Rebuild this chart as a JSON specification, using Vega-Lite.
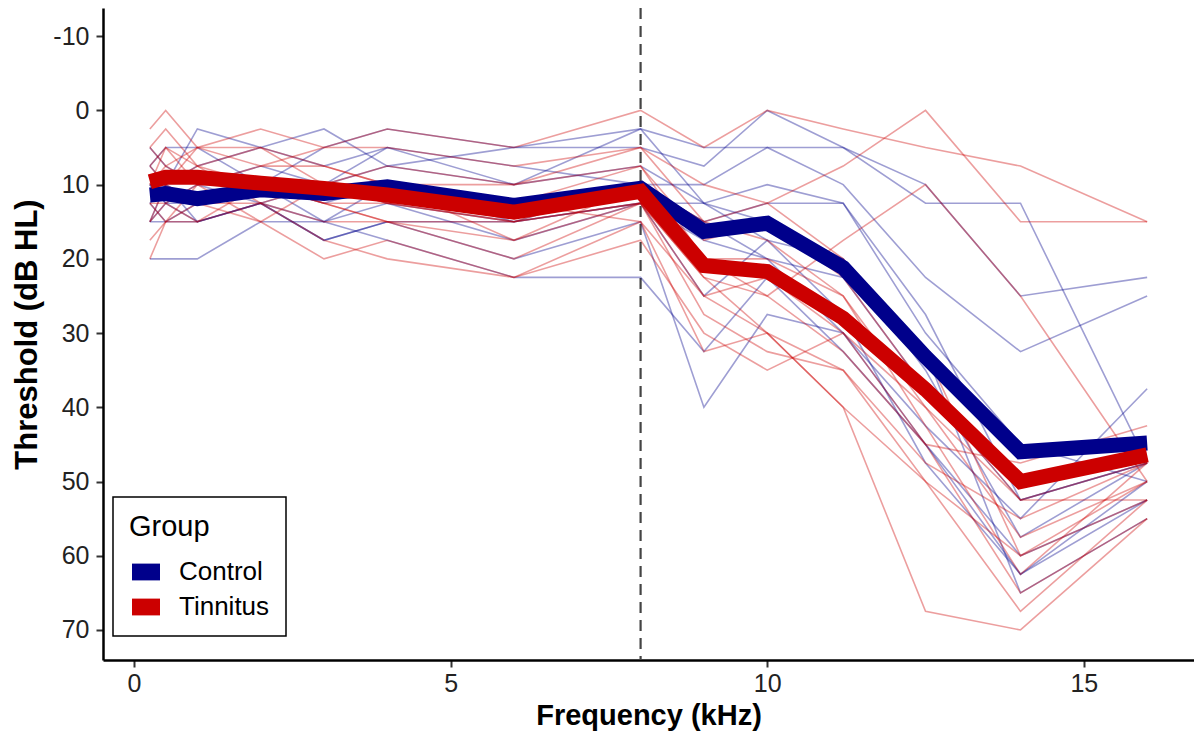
{
  "$schema": "https://vega.github.io/schema/vega-lite/v6.json",
  "autosize": {"type": "none"},
  "padding": {"left": 103, "top": 8, "right": 0, "bottom": 78},
  "width": 1091,
  "height": 652,
  "background": "white",
  "config": {
    "font": "Liberation Sans",
    "view": {"stroke": null},
    "axis": {"grid": false}
  },
  "datasets": {
    "subjects": [
{"id":"C1","group":"Control","freq":0.25,"thr":10},{"id":"C1","group":"Control","freq":0.5,"thr":10},{"id":"C1","group":"Control","freq":1,"thr":7.5},{"id":"C1","group":"Control","freq":2,"thr":5},{"id":"C1","group":"Control","freq":3,"thr":7.5},{"id":"C1","group":"Control","freq":4,"thr":5},{"id":"C1","group":"Control","freq":6,"thr":10},{"id":"C1","group":"Control","freq":8,"thr":2.5},{"id":"C1","group":"Control","freq":9,"thr":5},{"id":"C1","group":"Control","freq":10,"thr":5},{"id":"C1","group":"Control","freq":11.2,"thr":5},{"id":"C1","group":"Control","freq":12.5,"thr":12.5},{"id":"C1","group":"Control","freq":14,"thr":12.5},{"id":"C1","group":"Control","freq":16,"thr":47.5},
{"id":"C2","group":"Control","freq":0.25,"thr":15},{"id":"C2","group":"Control","freq":0.5,"thr":12.5},{"id":"C2","group":"Control","freq":1,"thr":15},{"id":"C2","group":"Control","freq":2,"thr":12.5},{"id":"C2","group":"Control","freq":3,"thr":17.5},{"id":"C2","group":"Control","freq":4,"thr":15},{"id":"C2","group":"Control","freq":6,"thr":20},{"id":"C2","group":"Control","freq":8,"thr":15},{"id":"C2","group":"Control","freq":9,"thr":40},{"id":"C2","group":"Control","freq":10,"thr":27.5},{"id":"C2","group":"Control","freq":11.2,"thr":30},{"id":"C2","group":"Control","freq":12.5,"thr":45},{"id":"C2","group":"Control","freq":14,"thr":62.5},{"id":"C2","group":"Control","freq":16,"thr":50},
{"id":"C3","group":"Control","freq":0.25,"thr":7.5},{"id":"C3","group":"Control","freq":0.5,"thr":10},{"id":"C3","group":"Control","freq":1,"thr":2.5},{"id":"C3","group":"Control","freq":2,"thr":5},{"id":"C3","group":"Control","freq":3,"thr":2.5},{"id":"C3","group":"Control","freq":4,"thr":7.5},{"id":"C3","group":"Control","freq":6,"thr":5},{"id":"C3","group":"Control","freq":8,"thr":5},{"id":"C3","group":"Control","freq":9,"thr":7.5},{"id":"C3","group":"Control","freq":10,"thr":0},{"id":"C3","group":"Control","freq":11.2,"thr":5},{"id":"C3","group":"Control","freq":12.5,"thr":10},{"id":"C3","group":"Control","freq":14,"thr":25},{"id":"C3","group":"Control","freq":16,"thr":22.5},
{"id":"C4","group":"Control","freq":0.25,"thr":12.5},{"id":"C4","group":"Control","freq":0.5,"thr":10},{"id":"C4","group":"Control","freq":1,"thr":12.5},{"id":"C4","group":"Control","freq":2,"thr":10},{"id":"C4","group":"Control","freq":3,"thr":12.5},{"id":"C4","group":"Control","freq":4,"thr":10},{"id":"C4","group":"Control","freq":6,"thr":12.5},{"id":"C4","group":"Control","freq":8,"thr":10},{"id":"C4","group":"Control","freq":9,"thr":10},{"id":"C4","group":"Control","freq":10,"thr":5},{"id":"C4","group":"Control","freq":11.2,"thr":10},{"id":"C4","group":"Control","freq":12.5,"thr":22.5},{"id":"C4","group":"Control","freq":14,"thr":32.5},{"id":"C4","group":"Control","freq":16,"thr":25},
{"id":"C5","group":"Control","freq":0.25,"thr":20},{"id":"C5","group":"Control","freq":0.5,"thr":20},{"id":"C5","group":"Control","freq":1,"thr":20},{"id":"C5","group":"Control","freq":2,"thr":15},{"id":"C5","group":"Control","freq":3,"thr":15},{"id":"C5","group":"Control","freq":4,"thr":12.5},{"id":"C5","group":"Control","freq":6,"thr":15},{"id":"C5","group":"Control","freq":8,"thr":12.5},{"id":"C5","group":"Control","freq":9,"thr":17.5},{"id":"C5","group":"Control","freq":10,"thr":20},{"id":"C5","group":"Control","freq":11.2,"thr":30},{"id":"C5","group":"Control","freq":12.5,"thr":42.5},{"id":"C5","group":"Control","freq":14,"thr":55},{"id":"C5","group":"Control","freq":16,"thr":37.5},
{"id":"C6","group":"Control","freq":0.25,"thr":10},{"id":"C6","group":"Control","freq":0.5,"thr":12.5},{"id":"C6","group":"Control","freq":1,"thr":10},{"id":"C6","group":"Control","freq":2,"thr":12.5},{"id":"C6","group":"Control","freq":3,"thr":10},{"id":"C6","group":"Control","freq":4,"thr":12.5},{"id":"C6","group":"Control","freq":6,"thr":17.5},{"id":"C6","group":"Control","freq":8,"thr":12.5},{"id":"C6","group":"Control","freq":9,"thr":25},{"id":"C6","group":"Control","freq":10,"thr":17.5},{"id":"C6","group":"Control","freq":11.2,"thr":27.5},{"id":"C6","group":"Control","freq":12.5,"thr":47.5},{"id":"C6","group":"Control","freq":14,"thr":62.5},{"id":"C6","group":"Control","freq":16,"thr":52.5},
{"id":"C7","group":"Control","freq":0.25,"thr":5},{"id":"C7","group":"Control","freq":0.5,"thr":7.5},{"id":"C7","group":"Control","freq":1,"thr":10},{"id":"C7","group":"Control","freq":2,"thr":7.5},{"id":"C7","group":"Control","freq":3,"thr":10},{"id":"C7","group":"Control","freq":4,"thr":5},{"id":"C7","group":"Control","freq":6,"thr":7.5},{"id":"C7","group":"Control","freq":8,"thr":10},{"id":"C7","group":"Control","freq":9,"thr":15},{"id":"C7","group":"Control","freq":10,"thr":12.5},{"id":"C7","group":"Control","freq":11.2,"thr":12.5},{"id":"C7","group":"Control","freq":12.5,"thr":27.5},{"id":"C7","group":"Control","freq":14,"thr":52.5},{"id":"C7","group":"Control","freq":16,"thr":47.5},
{"id":"C8","group":"Control","freq":0.25,"thr":15},{"id":"C8","group":"Control","freq":0.5,"thr":15},{"id":"C8","group":"Control","freq":1,"thr":15},{"id":"C8","group":"Control","freq":2,"thr":12.5},{"id":"C8","group":"Control","freq":3,"thr":15},{"id":"C8","group":"Control","freq":4,"thr":17.5},{"id":"C8","group":"Control","freq":6,"thr":22.5},{"id":"C8","group":"Control","freq":8,"thr":22.5},{"id":"C8","group":"Control","freq":9,"thr":32.5},{"id":"C8","group":"Control","freq":10,"thr":22.5},{"id":"C8","group":"Control","freq":11.2,"thr":32.5},{"id":"C8","group":"Control","freq":12.5,"thr":45},{"id":"C8","group":"Control","freq":14,"thr":60},{"id":"C8","group":"Control","freq":16,"thr":52.5},
{"id":"C9","group":"Control","freq":0.25,"thr":12.5},{"id":"C9","group":"Control","freq":0.5,"thr":15},{"id":"C9","group":"Control","freq":1,"thr":12.5},{"id":"C9","group":"Control","freq":2,"thr":10},{"id":"C9","group":"Control","freq":3,"thr":10},{"id":"C9","group":"Control","freq":4,"thr":7.5},{"id":"C9","group":"Control","freq":6,"thr":10},{"id":"C9","group":"Control","freq":8,"thr":7.5},{"id":"C9","group":"Control","freq":9,"thr":12.5},{"id":"C9","group":"Control","freq":10,"thr":15},{"id":"C9","group":"Control","freq":11.2,"thr":20},{"id":"C9","group":"Control","freq":12.5,"thr":35},{"id":"C9","group":"Control","freq":14,"thr":57.5},{"id":"C9","group":"Control","freq":16,"thr":47.5},
{"id":"C10","group":"Control","freq":0.25,"thr":7.5},{"id":"C10","group":"Control","freq":0.5,"thr":5},{"id":"C10","group":"Control","freq":1,"thr":5},{"id":"C10","group":"Control","freq":2,"thr":10},{"id":"C10","group":"Control","freq":3,"thr":5},{"id":"C10","group":"Control","freq":4,"thr":2.5},{"id":"C10","group":"Control","freq":6,"thr":5},{"id":"C10","group":"Control","freq":8,"thr":2.5},{"id":"C10","group":"Control","freq":9,"thr":12.5},{"id":"C10","group":"Control","freq":10,"thr":10},{"id":"C10","group":"Control","freq":11.2,"thr":12.5},{"id":"C10","group":"Control","freq":12.5,"thr":30},{"id":"C10","group":"Control","freq":14,"thr":45},{"id":"C10","group":"Control","freq":16,"thr":50},
{"id":"C11","group":"Control","freq":0.25,"thr":15},{"id":"C11","group":"Control","freq":0.5,"thr":10},{"id":"C11","group":"Control","freq":1,"thr":15},{"id":"C11","group":"Control","freq":2,"thr":12.5},{"id":"C11","group":"Control","freq":3,"thr":17.5},{"id":"C11","group":"Control","freq":4,"thr":15},{"id":"C11","group":"Control","freq":6,"thr":15},{"id":"C11","group":"Control","freq":8,"thr":10},{"id":"C11","group":"Control","freq":9,"thr":15},{"id":"C11","group":"Control","freq":10,"thr":20},{"id":"C11","group":"Control","freq":11.2,"thr":22.5},{"id":"C11","group":"Control","freq":12.5,"thr":37.5},{"id":"C11","group":"Control","freq":14,"thr":52.5},{"id":"C11","group":"Control","freq":16,"thr":47.5},
{"id":"C12","group":"Control","freq":0.25,"thr":10},{"id":"C12","group":"Control","freq":0.5,"thr":12.5},{"id":"C12","group":"Control","freq":1,"thr":12.5},{"id":"C12","group":"Control","freq":2,"thr":10},{"id":"C12","group":"Control","freq":3,"thr":15},{"id":"C12","group":"Control","freq":4,"thr":10},{"id":"C12","group":"Control","freq":6,"thr":15},{"id":"C12","group":"Control","freq":8,"thr":12.5},{"id":"C12","group":"Control","freq":9,"thr":12.5},{"id":"C12","group":"Control","freq":10,"thr":17.5},{"id":"C12","group":"Control","freq":11.2,"thr":20},{"id":"C12","group":"Control","freq":12.5,"thr":32.5},{"id":"C12","group":"Control","freq":14,"thr":65},{"id":"C12","group":"Control","freq":16,"thr":55},
{"id":"T1","group":"Tinnitus","freq":0.25,"thr":2.5},{"id":"T1","group":"Tinnitus","freq":0.5,"thr":0},{"id":"T1","group":"Tinnitus","freq":1,"thr":5},{"id":"T1","group":"Tinnitus","freq":2,"thr":2.5},{"id":"T1","group":"Tinnitus","freq":3,"thr":5},{"id":"T1","group":"Tinnitus","freq":4,"thr":2.5},{"id":"T1","group":"Tinnitus","freq":6,"thr":5},{"id":"T1","group":"Tinnitus","freq":8,"thr":0},{"id":"T1","group":"Tinnitus","freq":9,"thr":5},{"id":"T1","group":"Tinnitus","freq":10,"thr":0},{"id":"T1","group":"Tinnitus","freq":11.2,"thr":2.5},{"id":"T1","group":"Tinnitus","freq":12.5,"thr":5},{"id":"T1","group":"Tinnitus","freq":14,"thr":7.5},{"id":"T1","group":"Tinnitus","freq":16,"thr":15},
{"id":"T2","group":"Tinnitus","freq":0.25,"thr":5},{"id":"T2","group":"Tinnitus","freq":0.5,"thr":7.5},{"id":"T2","group":"Tinnitus","freq":1,"thr":5},{"id":"T2","group":"Tinnitus","freq":2,"thr":7.5},{"id":"T2","group":"Tinnitus","freq":3,"thr":5},{"id":"T2","group":"Tinnitus","freq":4,"thr":5},{"id":"T2","group":"Tinnitus","freq":6,"thr":7.5},{"id":"T2","group":"Tinnitus","freq":8,"thr":5},{"id":"T2","group":"Tinnitus","freq":9,"thr":10},{"id":"T2","group":"Tinnitus","freq":10,"thr":12.5},{"id":"T2","group":"Tinnitus","freq":11.2,"thr":7.5},{"id":"T2","group":"Tinnitus","freq":12.5,"thr":0},{"id":"T2","group":"Tinnitus","freq":14,"thr":15},{"id":"T2","group":"Tinnitus","freq":16,"thr":15},
{"id":"T3","group":"Tinnitus","freq":0.25,"thr":15},{"id":"T3","group":"Tinnitus","freq":0.5,"thr":10},{"id":"T3","group":"Tinnitus","freq":1,"thr":12.5},{"id":"T3","group":"Tinnitus","freq":2,"thr":15},{"id":"T3","group":"Tinnitus","freq":3,"thr":20},{"id":"T3","group":"Tinnitus","freq":4,"thr":17.5},{"id":"T3","group":"Tinnitus","freq":6,"thr":22.5},{"id":"T3","group":"Tinnitus","freq":8,"thr":17.5},{"id":"T3","group":"Tinnitus","freq":9,"thr":30},{"id":"T3","group":"Tinnitus","freq":10,"thr":35},{"id":"T3","group":"Tinnitus","freq":11.2,"thr":30},{"id":"T3","group":"Tinnitus","freq":12.5,"thr":40},{"id":"T3","group":"Tinnitus","freq":14,"thr":52.5},{"id":"T3","group":"Tinnitus","freq":16,"thr":52.5},
{"id":"T4","group":"Tinnitus","freq":0.25,"thr":10},{"id":"T4","group":"Tinnitus","freq":0.5,"thr":5},{"id":"T4","group":"Tinnitus","freq":1,"thr":7.5},{"id":"T4","group":"Tinnitus","freq":2,"thr":10},{"id":"T4","group":"Tinnitus","freq":3,"thr":10},{"id":"T4","group":"Tinnitus","freq":4,"thr":12.5},{"id":"T4","group":"Tinnitus","freq":6,"thr":12.5},{"id":"T4","group":"Tinnitus","freq":8,"thr":15},{"id":"T4","group":"Tinnitus","freq":9,"thr":32.5},{"id":"T4","group":"Tinnitus","freq":10,"thr":30},{"id":"T4","group":"Tinnitus","freq":11.2,"thr":40},{"id":"T4","group":"Tinnitus","freq":12.5,"thr":67.5},{"id":"T4","group":"Tinnitus","freq":14,"thr":70},{"id":"T4","group":"Tinnitus","freq":16,"thr":55},
{"id":"T5","group":"Tinnitus","freq":0.25,"thr":7.5},{"id":"T5","group":"Tinnitus","freq":0.5,"thr":5},{"id":"T5","group":"Tinnitus","freq":1,"thr":10},{"id":"T5","group":"Tinnitus","freq":2,"thr":7.5},{"id":"T5","group":"Tinnitus","freq":3,"thr":7.5},{"id":"T5","group":"Tinnitus","freq":4,"thr":10},{"id":"T5","group":"Tinnitus","freq":6,"thr":10},{"id":"T5","group":"Tinnitus","freq":8,"thr":7.5},{"id":"T5","group":"Tinnitus","freq":9,"thr":20},{"id":"T5","group":"Tinnitus","freq":10,"thr":25},{"id":"T5","group":"Tinnitus","freq":11.2,"thr":17.5},{"id":"T5","group":"Tinnitus","freq":12.5,"thr":10},{"id":"T5","group":"Tinnitus","freq":14,"thr":25},{"id":"T5","group":"Tinnitus","freq":16,"thr":50},
{"id":"T6","group":"Tinnitus","freq":0.25,"thr":12.5},{"id":"T6","group":"Tinnitus","freq":0.5,"thr":12.5},{"id":"T6","group":"Tinnitus","freq":1,"thr":10},{"id":"T6","group":"Tinnitus","freq":2,"thr":10},{"id":"T6","group":"Tinnitus","freq":3,"thr":12.5},{"id":"T6","group":"Tinnitus","freq":4,"thr":15},{"id":"T6","group":"Tinnitus","freq":6,"thr":15},{"id":"T6","group":"Tinnitus","freq":8,"thr":12.5},{"id":"T6","group":"Tinnitus","freq":9,"thr":22.5},{"id":"T6","group":"Tinnitus","freq":10,"thr":30},{"id":"T6","group":"Tinnitus","freq":11.2,"thr":35},{"id":"T6","group":"Tinnitus","freq":12.5,"thr":50},{"id":"T6","group":"Tinnitus","freq":14,"thr":60},{"id":"T6","group":"Tinnitus","freq":16,"thr":52.5},
{"id":"T7","group":"Tinnitus","freq":0.25,"thr":20},{"id":"T7","group":"Tinnitus","freq":0.5,"thr":15},{"id":"T7","group":"Tinnitus","freq":1,"thr":12.5},{"id":"T7","group":"Tinnitus","freq":2,"thr":12.5},{"id":"T7","group":"Tinnitus","freq":3,"thr":17.5},{"id":"T7","group":"Tinnitus","freq":4,"thr":20},{"id":"T7","group":"Tinnitus","freq":6,"thr":22.5},{"id":"T7","group":"Tinnitus","freq":8,"thr":15},{"id":"T7","group":"Tinnitus","freq":9,"thr":25},{"id":"T7","group":"Tinnitus","freq":10,"thr":22.5},{"id":"T7","group":"Tinnitus","freq":11.2,"thr":30},{"id":"T7","group":"Tinnitus","freq":12.5,"thr":45},{"id":"T7","group":"Tinnitus","freq":14,"thr":65},{"id":"T7","group":"Tinnitus","freq":16,"thr":55},
{"id":"T8","group":"Tinnitus","freq":0.25,"thr":10},{"id":"T8","group":"Tinnitus","freq":0.5,"thr":10},{"id":"T8","group":"Tinnitus","freq":1,"thr":7.5},{"id":"T8","group":"Tinnitus","freq":2,"thr":12.5},{"id":"T8","group":"Tinnitus","freq":3,"thr":10},{"id":"T8","group":"Tinnitus","freq":4,"thr":10},{"id":"T8","group":"Tinnitus","freq":6,"thr":17.5},{"id":"T8","group":"Tinnitus","freq":8,"thr":10},{"id":"T8","group":"Tinnitus","freq":9,"thr":15},{"id":"T8","group":"Tinnitus","freq":10,"thr":17.5},{"id":"T8","group":"Tinnitus","freq":11.2,"thr":25},{"id":"T8","group":"Tinnitus","freq":12.5,"thr":40},{"id":"T8","group":"Tinnitus","freq":14,"thr":57.5},{"id":"T8","group":"Tinnitus","freq":16,"thr":50},
{"id":"T9","group":"Tinnitus","freq":0.25,"thr":5},{"id":"T9","group":"Tinnitus","freq":0.5,"thr":2.5},{"id":"T9","group":"Tinnitus","freq":1,"thr":7.5},{"id":"T9","group":"Tinnitus","freq":2,"thr":5},{"id":"T9","group":"Tinnitus","freq":3,"thr":7.5},{"id":"T9","group":"Tinnitus","freq":4,"thr":10},{"id":"T9","group":"Tinnitus","freq":6,"thr":12.5},{"id":"T9","group":"Tinnitus","freq":8,"thr":7.5},{"id":"T9","group":"Tinnitus","freq":9,"thr":17.5},{"id":"T9","group":"Tinnitus","freq":10,"thr":15},{"id":"T9","group":"Tinnitus","freq":11.2,"thr":22.5},{"id":"T9","group":"Tinnitus","freq":12.5,"thr":37.5},{"id":"T9","group":"Tinnitus","freq":14,"thr":52.5},{"id":"T9","group":"Tinnitus","freq":16,"thr":47.5},
{"id":"T10","group":"Tinnitus","freq":0.25,"thr":17.5},{"id":"T10","group":"Tinnitus","freq":0.5,"thr":15},{"id":"T10","group":"Tinnitus","freq":1,"thr":15},{"id":"T10","group":"Tinnitus","freq":2,"thr":12.5},{"id":"T10","group":"Tinnitus","freq":3,"thr":15},{"id":"T10","group":"Tinnitus","freq":4,"thr":15},{"id":"T10","group":"Tinnitus","freq":6,"thr":20},{"id":"T10","group":"Tinnitus","freq":8,"thr":12.5},{"id":"T10","group":"Tinnitus","freq":9,"thr":25},{"id":"T10","group":"Tinnitus","freq":10,"thr":30},{"id":"T10","group":"Tinnitus","freq":11.2,"thr":40},{"id":"T10","group":"Tinnitus","freq":12.5,"thr":50},{"id":"T10","group":"Tinnitus","freq":14,"thr":67.5},{"id":"T10","group":"Tinnitus","freq":16,"thr":52.5},
{"id":"T11","group":"Tinnitus","freq":0.25,"thr":7.5},{"id":"T11","group":"Tinnitus","freq":0.5,"thr":10},{"id":"T11","group":"Tinnitus","freq":1,"thr":5},{"id":"T11","group":"Tinnitus","freq":2,"thr":5},{"id":"T11","group":"Tinnitus","freq":3,"thr":10},{"id":"T11","group":"Tinnitus","freq":4,"thr":7.5},{"id":"T11","group":"Tinnitus","freq":6,"thr":10},{"id":"T11","group":"Tinnitus","freq":8,"thr":5},{"id":"T11","group":"Tinnitus","freq":9,"thr":15},{"id":"T11","group":"Tinnitus","freq":10,"thr":12.5},{"id":"T11","group":"Tinnitus","freq":11.2,"thr":20},{"id":"T11","group":"Tinnitus","freq":12.5,"thr":32.5},{"id":"T11","group":"Tinnitus","freq":14,"thr":60},{"id":"T11","group":"Tinnitus","freq":16,"thr":50},
{"id":"T12","group":"Tinnitus","freq":0.25,"thr":15},{"id":"T12","group":"Tinnitus","freq":0.5,"thr":12.5},{"id":"T12","group":"Tinnitus","freq":1,"thr":15},{"id":"T12","group":"Tinnitus","freq":2,"thr":10},{"id":"T12","group":"Tinnitus","freq":3,"thr":12.5},{"id":"T12","group":"Tinnitus","freq":4,"thr":15},{"id":"T12","group":"Tinnitus","freq":6,"thr":17.5},{"id":"T12","group":"Tinnitus","freq":8,"thr":12.5},{"id":"T12","group":"Tinnitus","freq":9,"thr":27.5},{"id":"T12","group":"Tinnitus","freq":10,"thr":32.5},{"id":"T12","group":"Tinnitus","freq":11.2,"thr":35},{"id":"T12","group":"Tinnitus","freq":12.5,"thr":47.5},{"id":"T12","group":"Tinnitus","freq":14,"thr":55},{"id":"T12","group":"Tinnitus","freq":16,"thr":47.5},
{"id":"T13","group":"Tinnitus","freq":0.25,"thr":10},{"id":"T13","group":"Tinnitus","freq":0.5,"thr":7.5},{"id":"T13","group":"Tinnitus","freq":1,"thr":10},{"id":"T13","group":"Tinnitus","freq":2,"thr":10},{"id":"T13","group":"Tinnitus","freq":3,"thr":12.5},{"id":"T13","group":"Tinnitus","freq":4,"thr":12.5},{"id":"T13","group":"Tinnitus","freq":6,"thr":15},{"id":"T13","group":"Tinnitus","freq":8,"thr":10},{"id":"T13","group":"Tinnitus","freq":9,"thr":20},{"id":"T13","group":"Tinnitus","freq":10,"thr":20},{"id":"T13","group":"Tinnitus","freq":11.2,"thr":25},{"id":"T13","group":"Tinnitus","freq":12.5,"thr":42.5},{"id":"T13","group":"Tinnitus","freq":14,"thr":62.5},{"id":"T13","group":"Tinnitus","freq":16,"thr":47.5},
{"id":"T14","group":"Tinnitus","freq":0.25,"thr":12.5},{"id":"T14","group":"Tinnitus","freq":0.5,"thr":15},{"id":"T14","group":"Tinnitus","freq":1,"thr":10},{"id":"T14","group":"Tinnitus","freq":2,"thr":15},{"id":"T14","group":"Tinnitus","freq":3,"thr":10},{"id":"T14","group":"Tinnitus","freq":4,"thr":12.5},{"id":"T14","group":"Tinnitus","freq":6,"thr":15},{"id":"T14","group":"Tinnitus","freq":8,"thr":12.5},{"id":"T14","group":"Tinnitus","freq":9,"thr":22.5},{"id":"T14","group":"Tinnitus","freq":10,"thr":25},{"id":"T14","group":"Tinnitus","freq":11.2,"thr":32.5},{"id":"T14","group":"Tinnitus","freq":12.5,"thr":45},{"id":"T14","group":"Tinnitus","freq":14,"thr":47.5},{"id":"T14","group":"Tinnitus","freq":16,"thr":42.5}
    ],
    "means": [
{"group":"Control","freq":0.25,"thr":11.4},{"group":"Control","freq":0.5,"thr":11.2},{"group":"Control","freq":1,"thr":11.9},{"group":"Control","freq":2,"thr":10.7},{"group":"Control","freq":3,"thr":11.2},{"group":"Control","freq":4,"thr":10.3},{"group":"Control","freq":6,"thr":12.8},{"group":"Control","freq":8,"thr":10.5},{"group":"Control","freq":9,"thr":16.3},{"group":"Control","freq":10,"thr":15.2},{"group":"Control","freq":11.2,"thr":21.2},{"group":"Control","freq":12.5,"thr":33.2},{"group":"Control","freq":14,"thr":46},{"group":"Control","freq":16,"thr":44.8},
{"group":"Tinnitus","freq":0.25,"thr":9.6},{"group":"Tinnitus","freq":0.5,"thr":9},{"group":"Tinnitus","freq":1,"thr":9},{"group":"Tinnitus","freq":2,"thr":9.8},{"group":"Tinnitus","freq":3,"thr":10.5},{"group":"Tinnitus","freq":4,"thr":11.4},{"group":"Tinnitus","freq":6,"thr":13.7},{"group":"Tinnitus","freq":8,"thr":10.9},{"group":"Tinnitus","freq":9,"thr":20.9},{"group":"Tinnitus","freq":10,"thr":21.7},{"group":"Tinnitus","freq":11.2,"thr":28},{"group":"Tinnitus","freq":12.5,"thr":37.6},{"group":"Tinnitus","freq":14,"thr":50},{"group":"Tinnitus","freq":16,"thr":46.4}
    ],
    "cutoff": [{"freq": 8}]
  },
  "encoding": {
    "x": {
      "field": "freq", "type": "quantitative",
      "scale": {"domain": [-0.49, 16.74], "nice": false, "zero": false},
      "axis": {
        "title": "Frequency (kHz)", "values": [0, 5, 10, 15], "labelExpr": "'' + datum.value",
        "titleFontSize": 29, "titleFontWeight": "bold", "titleColor": "black", "titlePadding": 5,
        "labelFontSize": 25, "labelColor": "#222", "labelPadding": 4,
        "tickColor": "#333", "tickSize": 7, "tickWidth": 2,
        "domainColor": "black", "domainWidth": 2.5
      }
    },
    "y": {
      "field": "thr", "type": "quantitative",
      "scale": {"domain": [-13.8, 74.05], "reverse": true, "nice": false, "zero": false},
      "axis": {
        "title": "Threshold (dB HL)", "values": [-10, 0, 10, 20, 30, 40, 50, 60, 70], "labelExpr": "'' + datum.value",
        "titleFontSize": 31, "titleFontWeight": "bold", "titleColor": "black", "titlePadding": 9,
        "labelFontSize": 25, "labelColor": "#222", "labelPadding": 7,
        "tickColor": "#333", "tickSize": 7, "tickWidth": 2,
        "domainColor": "black", "domainWidth": 2.5
      }
    }
  },
  "layer": [
    {
      "data": {"name": "cutoff"},
      "mark": {"type": "rule", "color": "#444", "strokeWidth": 2.2, "strokeDash": [11, 7]},
      "encoding": {"x": {"field": "freq", "type": "quantitative"}, "y": null}
    },
    {
      "data": {"name": "subjects"},
      "mark": {"type": "line", "strokeWidth": 1.6, "opacity": 0.38},
      "encoding": {
        "detail": {"field": "id"},
        "color": {
          "field": "group", "type": "nominal",
          "scale": {"domain": ["Control", "Tinnitus"], "range": ["#00008B", "#CC0000"]},
          "legend": {
            "title": "Group", "orient": "none", "legendX": 10, "legendY": 489,
            "titleFontSize": 29, "titleFontWeight": "normal", "titleColor": "black", "titlePadding": 16,
            "labelFontSize": 26, "labelColor": "black", "labelOffset": 19,
            "symbolType": "M-1,-0.6H1V0.6H-1Z", "symbolSize": 784, "symbolOpacity": 1, "symbolOffset": 3,
            "symbolStrokeWidth": 0, "rowPadding": 8,
            "padding": 16, "strokeColor": "black",
            "encode": {
              "symbols": {"update": {"fill": {"scale": "color", "field": "value"}, "strokeWidth": {"value": 0}, "opacity": {"value": 1}}},
              "legend": {"update": {"strokeWidth": {"value": 1.5}}}
            }
          }
        }
      }
    },
    {
      "data": {"name": "means"},
      "mark": {"type": "line", "strokeWidth": 15, "opacity": 1},
      "encoding": {
        "color": {
          "field": "group", "type": "nominal",
          "scale": {"domain": ["Control", "Tinnitus"], "range": ["#00008B", "#CC0000"]},
          "legend": {
            "title": "Group", "orient": "none", "legendX": 10, "legendY": 489,
            "titleFontSize": 29, "titleFontWeight": "normal", "titleColor": "black", "titlePadding": 16,
            "labelFontSize": 26, "labelColor": "black", "labelOffset": 19,
            "symbolType": "M-1,-0.6H1V0.6H-1Z", "symbolSize": 784, "symbolOpacity": 1, "symbolOffset": 3,
            "symbolStrokeWidth": 0, "rowPadding": 8,
            "padding": 16, "strokeColor": "black",
            "encode": {
              "symbols": {"update": {"fill": {"scale": "color", "field": "value"}, "strokeWidth": {"value": 0}, "opacity": {"value": 1}}},
              "legend": {"update": {"strokeWidth": {"value": 1.5}}}
            }
          }
        }
      }
    }
  ]
}
